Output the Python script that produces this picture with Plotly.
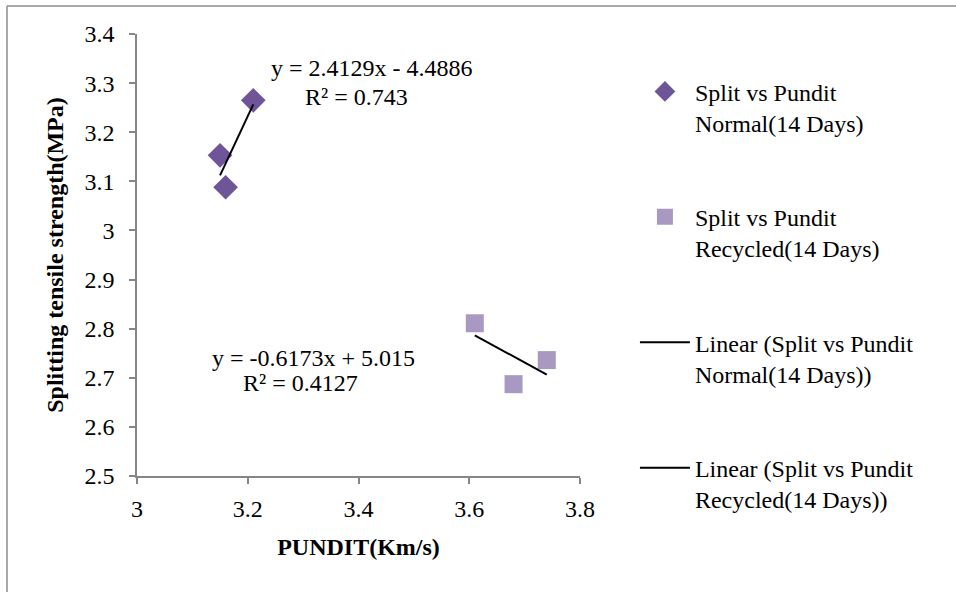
import plotly.graph_objects as go

# Normal concrete, 14 days
normal_pundit = [3.15, 3.16, 3.21]
normal_split = [3.153, 3.088, 3.265]
normal_slope, normal_intercept, normal_r2 = 2.4129, -4.4886, 0.743

# Recycled-aggregate concrete, 14 days
recycled_pundit = [3.61, 3.68, 3.74]
recycled_split = [2.811, 2.687, 2.736]
recycled_slope, recycled_intercept, recycled_r2 = -0.6173, 5.015, 0.4127

x_ticks = [3.0, 3.2, 3.4, 3.6, 3.8]
x_tick_text = ["3", "3.2", "3.4", "3.6", "3.8"]
y_ticks = [2.5, 2.6, 2.7, 2.8, 2.9, 3.0, 3.1, 3.2, 3.3, 3.4]
y_tick_text = ["2.5", "2.6", "2.7", "2.8", "2.9", "3", "3.1", "3.2", "3.3", "3.4"]

FONT = "Liberation Serif, Times New Roman, serif"
AXIS_GREY = "#868686"
FS = 24


def fit_line(xs, slope, intercept):
    x0, x1 = min(xs), max(xs)
    return [x0, x1], [slope * x0 + intercept, slope * x1 + intercept]


fig = go.Figure()

fig.add_trace(go.Scatter(
    x=normal_pundit, y=normal_split, mode="markers",
    name="Split vs Pundit<br>Normal(14 Days)", legendgroup="a",
    marker=dict(symbol="diamond", size=19, color="#6E5598"),
))
fig.add_trace(go.Scatter(
    x=recycled_pundit, y=recycled_split, mode="markers",
    name="Split vs Pundit<br>Recycled(14 Days)", legendgroup="b",
    marker=dict(symbol="square", size=18, color="#A898C2"),
))

lx, ly = fit_line(normal_pundit, normal_slope, normal_intercept)
fig.add_trace(go.Scatter(
    x=lx, y=ly, mode="lines", legendgroup="c",
    name="Linear (Split vs Pundit<br>Normal(14 Days))",
    line=dict(color="black", width=2),
))
lx, ly = fit_line(recycled_pundit, recycled_slope, recycled_intercept)
fig.add_trace(go.Scatter(
    x=lx, y=ly, mode="lines", legendgroup="d",
    name="Linear (Split vs Pundit<br>Recycled(14 Days))",
    line=dict(color="black", width=2),
))

eq_font = dict(family=FONT, size=FS, color="black")
annotations = [
    dict(x=3.424, y=3.331, text=f"y = {normal_slope}x - {abs(normal_intercept)}"),
    dict(x=3.397, y=3.272, text=f"R² = {normal_r2}"),
    dict(x=3.319, y=2.740, text=f"y = {recycled_slope}x + {recycled_intercept}"),
    dict(x=3.296, y=2.689, text=f"R² = {recycled_r2}"),
]
for a in annotations:
    a.update(xref="x", yref="y", showarrow=False, font=eq_font,
             xanchor="center", yanchor="middle")

fig.update_layout(
    width=956, height=592,
    margin=dict(l=137, r=376, t=34, b=116),
    paper_bgcolor="white", plot_bgcolor="white",
    font=dict(family=FONT, size=FS, color="black"),
    showlegend=True,
    legend=dict(
        x=1.124, y=0.92, xanchor="left", yanchor="top",
        font=dict(family=FONT, size=FS, color="black"),
        valign="top", itemwidth=50, tracegroupgap=60,
        bgcolor="rgba(0,0,0,0)", maxheight=570,
    ),
    annotations=annotations,
    shapes=[
        dict(type="line", xref="paper", yref="paper",
             x0=-0.2935, x1=-0.2935, y0=1.0633, y1=-0.5,
             line=dict(color="#8C8C8C", width=1.5)),
        dict(type="line", xref="paper", yref="paper",
             x0=-0.2935, x1=1.9, y0=1.0633, y1=1.0633,
             line=dict(color="#8C8C8C", width=1.5)),
    ],
)

fig.update_xaxes(
    range=[3.0, 3.8], tickvals=x_ticks, ticktext=x_tick_text,
    showgrid=False, zeroline=False,
    showline=True, linecolor=AXIS_GREY, linewidth=1.5,
    ticks="outside", ticklen=6, tickcolor=AXIS_GREY, tickwidth=1.5,
    tickfont=dict(family=FONT, size=FS), ticklabelstandoff=4,
    title=dict(text="<b>PUNDIT(Km/s)</b>", font=dict(family=FONT, size=FS), standoff=18),
)
fig.update_yaxes(
    range=[2.5, 3.4], tickvals=y_ticks, ticktext=y_tick_text,
    showgrid=False, zeroline=False,
    showline=True, linecolor=AXIS_GREY, linewidth=1.5,
    ticks="outside", ticklen=6, tickcolor=AXIS_GREY, tickwidth=1.5,
    tickfont=dict(family=FONT, size=FS), ticklabelstandoff=10,
    title=dict(text="<b>Splitting tensile strength(MPa)</b>", font=dict(family=FONT, size=FS), standoff=14),
)

fig.write_html("out.html")
